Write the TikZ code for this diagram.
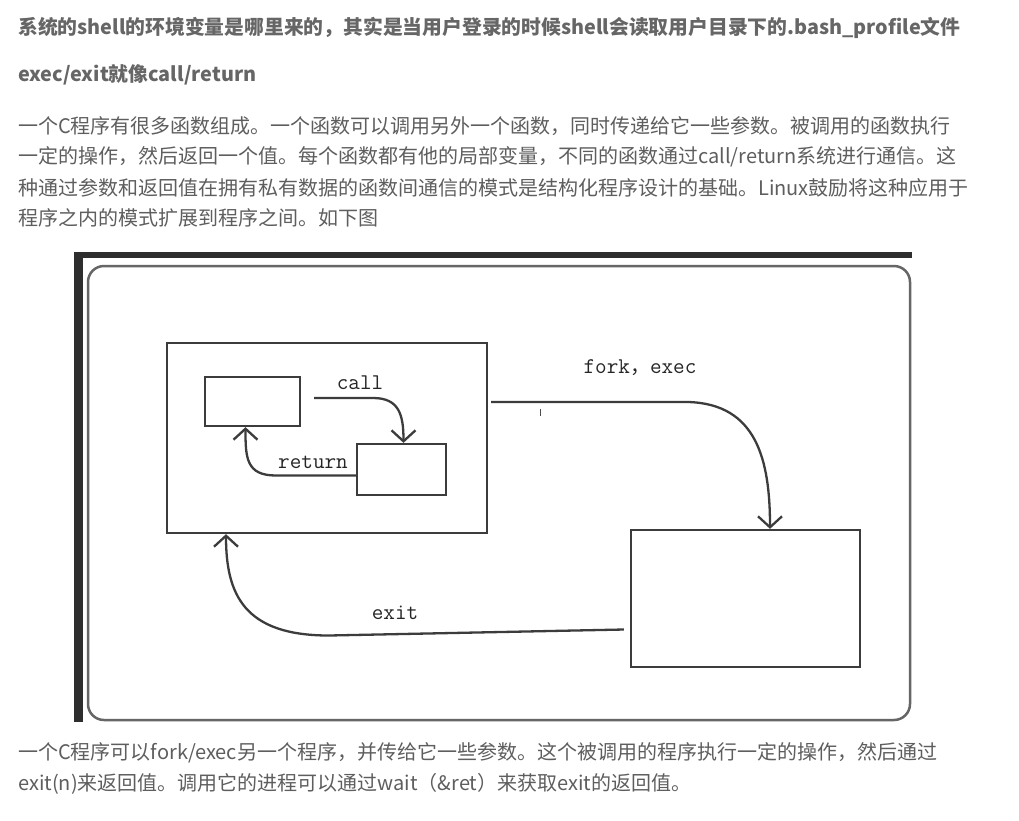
\documentclass[tikz,border=0pt]{standalone}
\usepackage{fontspec}
\setmainfont{Noto Sans CJK SC}
\newfontfamily\cjk{Noto Sans CJK SC}
\usetikzlibrary{arrows.meta}
\definecolor{prose}{HTML}{5E5E5E}
\definecolor{headline}{HTML}{666666}
\definecolor{pencil}{HTML}{3C3C3C}
\definecolor{strip}{HTML}{2E2E2E}

\begin{document}
\begin{tikzpicture}[x=1pt,y=-1pt,
  para/.style={anchor=west,inner sep=0pt,text=prose,font=\fontsize{20}{24}\selectfont},
  head/.style={para,text=headline,font=\fontsize{19.8}{24}\selectfont\bfseries},
  sketchbox/.style={draw=pencil,line width=2.3pt,inner sep=0pt},
  sheet/.style={draw=black!60,line width=2.5pt,rounded corners=16pt,inner sep=0pt},
  flow/.style={-{Straight Barb[length=11pt,width=24pt]},line width=2.3pt,draw=pencil},
  tag/.style={inner sep=0pt,font=\ttfamily\fontsize{22.5}{24}\selectfont,text=black!85}
]
\useasboundingbox (0,0) rectangle (1019,820);
\fill[white] (0,0) rectangle (1019,820);

% page text above the picture
\node[head] (title) at (18,28) {系统的shell的环境变量是哪里来的，其实是当用户登录的时候shell会读取用户目录下的.bash\_profile文件};
\node[head] (subtitle) at (18,75) {exec/exit就像call/return};
\node[para] (intro1) at (18,126) {一个C程序有很多函数组成。一个函数可以调用另外一个函数，同时传递给它一些参数。被调用的函数执行};
\node[para] (intro2) at (18,157) {一定的操作，然后返回一个值。每个函数都有他的局部变量，不同的函数通过call/return系统进行通信。这};
\node[para] (intro3) at (18,188) {种通过参数和返回值在拥有私有数据的函数间通信的模式是结构化程序设计的基础。Linux鼓励将这种应用于};
\node[para] (intro4) at (18,218) {程序之内的模式扩展到程序之间。如下图};

% scanned picture
\fill[strip] (74,252) rectangle (912,258);
\fill[strip] (74,252) rectangle (83,722);
\node[sheet,minimum width=822pt,minimum height=454pt] (canvas) at (499,493) {};
\draw[black!70,line width=1pt] (540,409) -- (540,416);

\node[sketchbox,minimum width=320pt,minimum height=190pt] (parent) at (327,438) {};
\node[sketchbox,minimum width=95pt,minimum height=49pt] (caller) at (252.5,401.5) {};
\node[sketchbox,minimum width=89pt,minimum height=51pt] (callee) at (401.5,469.5) {};
\node[sketchbox,minimum width=229pt,minimum height=137pt] (child) at (745.5,598.5) {};

\draw[flow] ([xshift=13pt,yshift=3.5pt]caller.east) -- ++(59,0)
  .. controls +(26,0) and +(0,-28) .. ([xshift=2pt]callee.north);
\draw[flow] ([yshift=-6pt]callee.west) -- ++(-80,0)
  .. controls +(-30,0) and +(0,30) .. ([xshift=-7pt]caller.south);
\draw[flow] ([xshift=3pt,yshift=36pt]parent.east) -- ++(197,0)
  .. controls +(68,2) and +(0,-70) .. ([xshift=24.5pt]child.north);
\draw[flow] ([xshift=-6pt,yshift=-31pt]child.west) -- ++(-295,6)
  .. controls +(-85,0) and +(0,60) .. ([xshift=-101pt]parent.south);

\node[tag] (calltag) at (360,383) {call};
\node[tag] (returntag) at (313,462) {return};
\node[tag] (forktag) at (640,368) {fork{\cjk\fontsize{20}{24}\selectfont ，}exec};
\node[tag] (exittag) at (395,613) {exit};

% page text below the picture
\node[para] (outro1) at (18,753) {一个C程序可以fork/exec另一个程序，并传给它一些参数。这个被调用的程序执行一定的操作，然后通过};
\node[para] (outro2) at (18,784) {exit(n)来返回值。调用它的进程可以通过wait（\&ret）来获取exit的返回值。};
\end{tikzpicture}
\end{document}
